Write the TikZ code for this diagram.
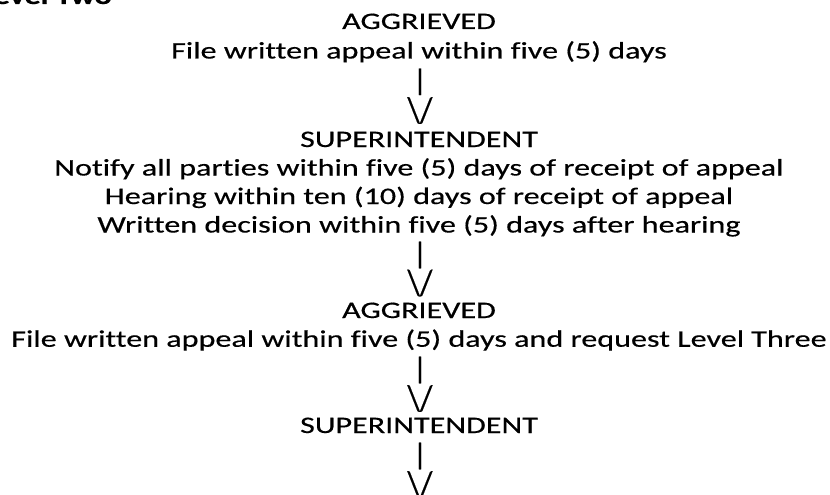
\documentclass[tikz,border=0pt]{standalone}
\usepackage{fontspec}
\setmainfont{Carlito}[FakeStretch=1.355,FakeBold=0.4,Ligatures=NoCommon]
\newcommand{\linefont}{\fontsize{23.7}{28.9}\selectfont}
\newcommand{\barglyph}{\resizebox*{\width}{26.5pt}{|}}
\newcommand{\vglyph}{\resizebox*{\width}{26.5pt}{\textbackslash/}}
\begin{document}
\begin{tikzpicture}[x=1pt,y=1pt,
  txt/.style={anchor=base, inner sep=0pt, font=\linefont},
  arr/.style={anchor=center, inner sep=0pt, font=\linefont},
  ttl/.style={anchor=base east, inner sep=0pt, font=\linefont\bfseries}]
\clip (0,0) rectangle (830,-495);
\node[ttl] (title) at (112,-4) {Level Two};
\node[txt] (a1) at (419,-29) {AGGRIEVED};
\node[txt] (a1t) at (419,-58.5) {File written appeal within five (5) days};
\node[arr] (b1) at (420,-81.8) {\barglyph};
\node[arr] (v1) at (420,-110.5) {\vglyph};
\node[txt] (s1) at (419,-147) {SUPERINTENDENT};
\node[txt] (s1a) at (419,-175.5) {Notify all parties within five (5) days of receipt of appeal};
\node[txt] (s1b) at (419,-204) {Hearing within ten (10) days of receipt of appeal};
\node[txt] (s1c) at (419,-232.5) {Written decision within five (5) days after hearing};
\node[arr] (b2) at (420,-255) {\barglyph};
\node[arr] (v2) at (420,-283) {\vglyph};
\node[txt] (a2) at (419,-318) {AGGRIEVED};
\node[txt] (a2t) at (419,-346.75) {File written appeal within five (5) days and request Level Three};
\node[arr] (b3) at (420,-370) {\barglyph};
\node[arr] (v3) at (420,-398.5) {\vglyph};
\node[txt] (s2) at (419,-433) {SUPERINTENDENT};
\node[arr] (b4) at (420,-456) {\barglyph};
\node[arr] (v4) at (420,-484.5) {\vglyph};
\end{tikzpicture}
\end{document}
